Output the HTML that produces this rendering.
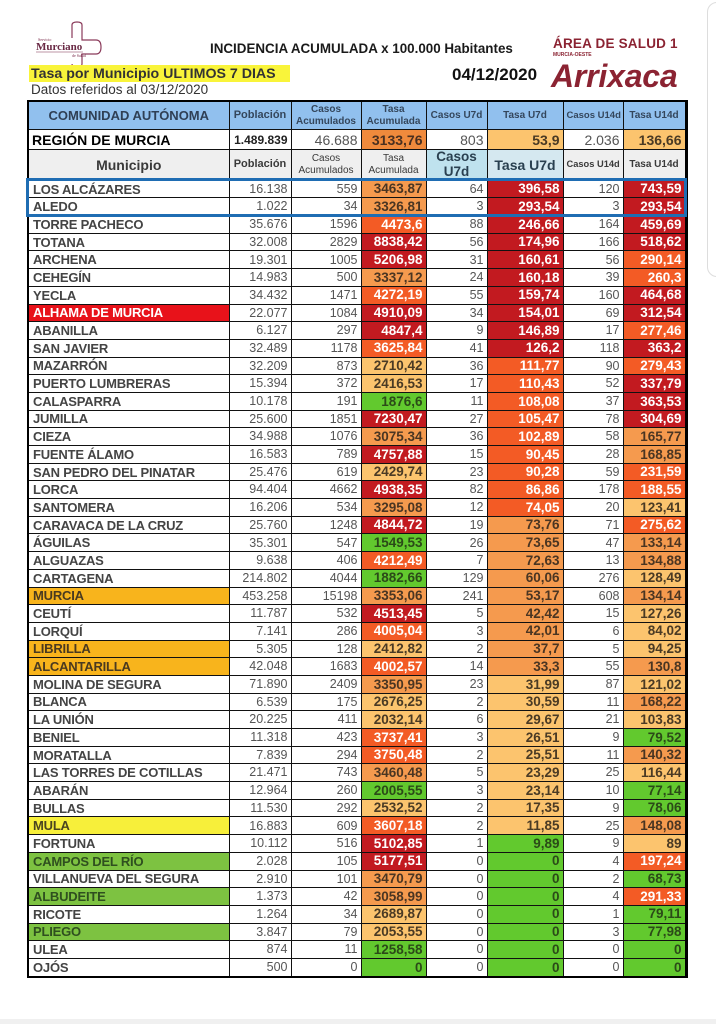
<!DOCTYPE html>
<html><head><meta charset="utf-8">
<style>
html,body{margin:0;padding:0;background:#fff;}
body{width:716px;height:1024px;position:relative;overflow:hidden;font-family:"Liberation Sans",Arial,sans-serif;}
.abs{position:absolute;white-space:nowrap;}
table{position:absolute;left:27px;top:100px;border-collapse:collapse;table-layout:fixed;width:658px;border:2.5px solid #000;border-right-width:3px;}
td{border:1px solid #111;padding:0 3px 0 3px;white-space:nowrap;overflow:hidden;line-height:1;vertical-align:middle;font-size:12.5px;color:#555;text-align:right;}
tr.b td{height:16.7px;}
td.n{text-align:left;font-weight:bold;color:#444;font-size:13px;letter-spacing:-0.2px;padding-left:4px;}
td.r,td.o,td.m,td.l,td.g{font-weight:bold;font-size:13.5px;}
td.r{background:#c21a20;color:#fff;}
td.o{background:#f35b25;color:#fff;}
td.m{background:#f59a4e;color:#4a3522;}
td.l{background:#fcc46e;color:#4a3a24;}
td.g{background:#62c92e;color:#2b4a18;}
td.nr{background:#e8121a;color:#fff;}
td.no{background:#f8b41c;color:#4a3a20;}
td.ny{background:#f7ef3a;color:#4a4520;}
td.ng{background:#7dc241;color:#2f4f1f;}
tr.h1 td{background:#91c0ee;height:27px;text-align:center;font-weight:bold;color:#34465c;font-size:10px;}
tr.h2 td{height:19px;}
tr.h3 td{background:#efefef;height:29px;text-align:center;font-weight:bold;color:#3a3a3a;font-size:10px;}
.sm{font-size:9.5px;line-height:1.15;font-weight:bold;}
</style></head><body>

<!-- logo -->
<svg class="abs" style="left:30px;top:20px" width="80" height="48" viewBox="0 0 80 48">
<path d="M42 5 Q42 2 47 2 Q52 2 52 5 L52 20 L66 20 Q71 20 71 27 Q71 34 66 34 L52 34 L52 44 Q52 47 47 47 Q42 47 42 44 M42 5 L42 18" fill="none" stroke="#8a3a5a" stroke-width="1.2"/>
<text x="8" y="21" font-family="Liberation Serif,serif" font-size="4" fill="#7a2a4a">Servicio</text>
<text x="6" y="30" font-family="Liberation Serif,serif" font-size="11" fill="#6a2a45" font-weight="bold">Murciano</text>
<line x1="6" y1="32" x2="53" y2="32" stroke="#7a2a4a" stroke-width="0.6"/>
<text x="42" y="37" font-family="Liberation Serif,serif" font-size="4" fill="#7a2a4a">de Salud</text>
</svg>

<div class="abs" style="left:210px;top:41px;font-size:13.4px;font-weight:bold;color:#1a1a1a;">INCIDENCIA ACUMULADA x 100.000 Habitantes</div>
<div class="abs" style="left:553px;top:36px;font-size:13.5px;font-weight:bold;color:#8b2332;letter-spacing:0.2px;">ÁREA DE SALUD 1</div>
<div class="abs" style="left:553px;top:52px;font-size:5px;font-weight:bold;color:#8b2332;">MURCIA-OESTE</div>
<div class="abs" style="left:551px;top:60px;font-size:32px;font-weight:bold;font-style:italic;color:#8b2332;letter-spacing:-0.2px;line-height:1;">Arrixaca</div>
<div class="abs" style="left:452px;top:65px;font-size:17px;font-weight:bold;color:#111;">04/12/2020</div>
<div class="abs" style="left:29px;top:65px;width:261px;height:17px;background:#f9f43a;"></div>
<div class="abs" style="left:31px;top:66px;font-size:14.2px;font-weight:bold;color:#333;">Tasa por Municipio ULTIMOS 7 DIAS</div>
<div class="abs" style="left:31px;top:82px;font-size:13.5px;color:#333;">Datos referidos al 03/12/2020</div>

<!-- right scroll box -->
<div class="abs" style="left:707px;top:2px;width:30px;height:273px;border:1px solid #ddd;border-radius:10px;"></div>
<!-- bottom band -->
<div class="abs" style="left:0;top:1019px;width:716px;height:5px;background:#f0f0f0;"></div>

<table>
<colgroup><col style="width:201px"><col style="width:62px"><col style="width:70px"><col style="width:65px"><col style="width:61px"><col style="width:76px"><col style="width:60px"><col style="width:63px"></colgroup>
<tr class="h1"><td style="font-size:13px;color:#2f3f55">COMUNIDAD AUTÓNOMA</td><td style="font-size:11px">Población</td><td class="sm">Casos<br>Acumulados</td><td class="sm">Tasa<br>Acumulada</td><td>Casos U7d</td><td>Tasa U7d</td><td style="font-size:9.5px">Casos U14d</td><td>Tasa U14d</td></tr>
<tr class="h2"><td style="text-align:left;font-weight:bold;color:#000;font-size:14px;padding-left:3px">REGIÓN DE MURCIA</td><td style="color:#222;font-size:12px;font-weight:bold">1.489.839</td><td style="font-size:14px">46.688</td><td style="background:#f08a3c;color:#4a3020;font-weight:bold;font-size:14px">3133,76</td><td style="font-size:14px">803</td><td class="l" style="font-size:14px">53,9</td><td style="font-size:14px">2.036</td><td class="l" style="font-size:14px">136,66</td></tr>
<tr class="h3"><td style="font-size:14px">Municipio</td><td style="font-size:11px">Población</td><td class="sm" style="font-weight:normal">Casos<br>Acumulados</td><td class="sm" style="font-weight:normal">Tasa<br>Acumulada</td><td style="background:#bfe2ee;font-size:13.5px;line-height:1.1;color:#2a4050">Casos<br>U7d</td><td style="background:#d5e8f0;font-size:14px;color:#2a4050">Tasa U7d</td><td style="font-size:9.3px">Casos U14d</td><td>Tasa U14d</td></tr>
<tr class="b"><td class="n">LOS ALCÁZARES</td><td>16.138</td><td>559</td><td class="m">3463,87</td><td>64</td><td class="r">396,58</td><td>120</td><td class="r">743,59</td></tr>
<tr class="b"><td class="n">ALEDO</td><td>1.022</td><td>34</td><td class="m">3326,81</td><td>3</td><td class="r">293,54</td><td>3</td><td class="r">293,54</td></tr>
<tr class="b"><td class="n">TORRE PACHECO</td><td>35.676</td><td>1596</td><td class="o">4473,6</td><td>88</td><td class="r">246,66</td><td>164</td><td class="r">459,69</td></tr>
<tr class="b"><td class="n">TOTANA</td><td>32.008</td><td>2829</td><td class="r">8838,42</td><td>56</td><td class="r">174,96</td><td>166</td><td class="r">518,62</td></tr>
<tr class="b"><td class="n">ARCHENA</td><td>19.301</td><td>1005</td><td class="r">5206,98</td><td>31</td><td class="r">160,61</td><td>56</td><td class="o">290,14</td></tr>
<tr class="b"><td class="n">CEHEGÍN</td><td>14.983</td><td>500</td><td class="m">3337,12</td><td>24</td><td class="r">160,18</td><td>39</td><td class="o">260,3</td></tr>
<tr class="b"><td class="n">YECLA</td><td>34.432</td><td>1471</td><td class="o">4272,19</td><td>55</td><td class="r">159,74</td><td>160</td><td class="r">464,68</td></tr>
<tr class="b"><td class="n nr">ALHAMA DE MURCIA</td><td>22.077</td><td>1084</td><td class="r">4910,09</td><td>34</td><td class="r">154,01</td><td>69</td><td class="r">312,54</td></tr>
<tr class="b"><td class="n">ABANILLA</td><td>6.127</td><td>297</td><td class="r">4847,4</td><td>9</td><td class="r">146,89</td><td>17</td><td class="o">277,46</td></tr>
<tr class="b"><td class="n">SAN JAVIER</td><td>32.489</td><td>1178</td><td class="o">3625,84</td><td>41</td><td class="r">126,2</td><td>118</td><td class="r">363,2</td></tr>
<tr class="b"><td class="n">MAZARRÓN</td><td>32.209</td><td>873</td><td class="l">2710,42</td><td>36</td><td class="o">111,77</td><td>90</td><td class="o">279,43</td></tr>
<tr class="b"><td class="n">PUERTO LUMBRERAS</td><td>15.394</td><td>372</td><td class="l">2416,53</td><td>17</td><td class="o">110,43</td><td>52</td><td class="r">337,79</td></tr>
<tr class="b"><td class="n">CALASPARRA</td><td>10.178</td><td>191</td><td class="g">1876,6</td><td>11</td><td class="o">108,08</td><td>37</td><td class="r">363,53</td></tr>
<tr class="b"><td class="n">JUMILLA</td><td>25.600</td><td>1851</td><td class="r">7230,47</td><td>27</td><td class="o">105,47</td><td>78</td><td class="r">304,69</td></tr>
<tr class="b"><td class="n">CIEZA</td><td>34.988</td><td>1076</td><td class="m">3075,34</td><td>36</td><td class="o">102,89</td><td>58</td><td class="m">165,77</td></tr>
<tr class="b"><td class="n">FUENTE ÁLAMO</td><td>16.583</td><td>789</td><td class="r">4757,88</td><td>15</td><td class="o">90,45</td><td>28</td><td class="m">168,85</td></tr>
<tr class="b"><td class="n">SAN PEDRO DEL PINATAR</td><td>25.476</td><td>619</td><td class="l">2429,74</td><td>23</td><td class="o">90,28</td><td>59</td><td class="o">231,59</td></tr>
<tr class="b"><td class="n">LORCA</td><td>94.404</td><td>4662</td><td class="r">4938,35</td><td>82</td><td class="o">86,86</td><td>178</td><td class="o">188,55</td></tr>
<tr class="b"><td class="n">SANTOMERA</td><td>16.206</td><td>534</td><td class="m">3295,08</td><td>12</td><td class="o">74,05</td><td>20</td><td class="l">123,41</td></tr>
<tr class="b"><td class="n">CARAVACA DE LA CRUZ</td><td>25.760</td><td>1248</td><td class="r">4844,72</td><td>19</td><td class="m">73,76</td><td>71</td><td class="o">275,62</td></tr>
<tr class="b"><td class="n">ÁGUILAS</td><td>35.301</td><td>547</td><td class="g">1549,53</td><td>26</td><td class="m">73,65</td><td>47</td><td class="m">133,14</td></tr>
<tr class="b"><td class="n">ALGUAZAS</td><td>9.638</td><td>406</td><td class="o">4212,49</td><td>7</td><td class="m">72,63</td><td>13</td><td class="m">134,88</td></tr>
<tr class="b"><td class="n">CARTAGENA</td><td>214.802</td><td>4044</td><td class="g">1882,66</td><td>129</td><td class="m">60,06</td><td>276</td><td class="l">128,49</td></tr>
<tr class="b"><td class="n no">MURCIA</td><td>453.258</td><td>15198</td><td class="m">3353,06</td><td>241</td><td class="m">53,17</td><td>608</td><td class="m">134,14</td></tr>
<tr class="b"><td class="n">CEUTÍ</td><td>11.787</td><td>532</td><td class="r">4513,45</td><td>5</td><td class="m">42,42</td><td>15</td><td class="l">127,26</td></tr>
<tr class="b"><td class="n">LORQUÍ</td><td>7.141</td><td>286</td><td class="o">4005,04</td><td>3</td><td class="m">42,01</td><td>6</td><td class="l">84,02</td></tr>
<tr class="b"><td class="n no">LIBRILLA</td><td>5.305</td><td>128</td><td class="l">2412,82</td><td>2</td><td class="m">37,7</td><td>5</td><td class="l">94,25</td></tr>
<tr class="b"><td class="n no">ALCANTARILLA</td><td>42.048</td><td>1683</td><td class="o">4002,57</td><td>14</td><td class="m">33,3</td><td>55</td><td class="m">130,8</td></tr>
<tr class="b"><td class="n">MOLINA DE SEGURA</td><td>71.890</td><td>2409</td><td class="m">3350,95</td><td>23</td><td class="l">31,99</td><td>87</td><td class="l">121,02</td></tr>
<tr class="b"><td class="n">BLANCA</td><td>6.539</td><td>175</td><td class="l">2676,25</td><td>2</td><td class="l">30,59</td><td>11</td><td class="m">168,22</td></tr>
<tr class="b"><td class="n">LA UNIÓN</td><td>20.225</td><td>411</td><td class="l">2032,14</td><td>6</td><td class="l">29,67</td><td>21</td><td class="l">103,83</td></tr>
<tr class="b"><td class="n">BENIEL</td><td>11.318</td><td>423</td><td class="o">3737,41</td><td>3</td><td class="l">26,51</td><td>9</td><td class="g">79,52</td></tr>
<tr class="b"><td class="n">MORATALLA</td><td>7.839</td><td>294</td><td class="o">3750,48</td><td>2</td><td class="l">25,51</td><td>11</td><td class="m">140,32</td></tr>
<tr class="b"><td class="n">LAS TORRES DE COTILLAS</td><td>21.471</td><td>743</td><td class="m">3460,48</td><td>5</td><td class="l">23,29</td><td>25</td><td class="l">116,44</td></tr>
<tr class="b"><td class="n">ABARÁN</td><td>12.964</td><td>260</td><td class="g">2005,55</td><td>3</td><td class="l">23,14</td><td>10</td><td class="g">77,14</td></tr>
<tr class="b"><td class="n">BULLAS</td><td>11.530</td><td>292</td><td class="l">2532,52</td><td>2</td><td class="l">17,35</td><td>9</td><td class="g">78,06</td></tr>
<tr class="b"><td class="n ny">MULA</td><td>16.883</td><td>609</td><td class="o">3607,18</td><td>2</td><td class="l">11,85</td><td>25</td><td class="m">148,08</td></tr>
<tr class="b"><td class="n">FORTUNA</td><td>10.112</td><td>516</td><td class="r">5102,85</td><td>1</td><td class="g">9,89</td><td>9</td><td class="l">89</td></tr>
<tr class="b"><td class="n ng">CAMPOS DEL RÍO</td><td>2.028</td><td>105</td><td class="r">5177,51</td><td>0</td><td class="g">0</td><td>4</td><td class="o">197,24</td></tr>
<tr class="b"><td class="n">VILLANUEVA DEL SEGURA</td><td>2.910</td><td>101</td><td class="m">3470,79</td><td>0</td><td class="g">0</td><td>2</td><td class="g">68,73</td></tr>
<tr class="b"><td class="n ng">ALBUDEITE</td><td>1.373</td><td>42</td><td class="m">3058,99</td><td>0</td><td class="g">0</td><td>4</td><td class="o">291,33</td></tr>
<tr class="b"><td class="n">RICOTE</td><td>1.264</td><td>34</td><td class="l">2689,87</td><td>0</td><td class="g">0</td><td>1</td><td class="g">79,11</td></tr>
<tr class="b"><td class="n ng">PLIEGO</td><td>3.847</td><td>79</td><td class="l">2053,55</td><td>0</td><td class="g">0</td><td>3</td><td class="g">77,98</td></tr>
<tr class="b"><td class="n">ULEA</td><td>874</td><td>11</td><td class="g">1258,58</td><td>0</td><td class="g">0</td><td>0</td><td class="g">0</td></tr>
<tr class="b"><td class="n">OJÓS</td><td>500</td><td>0</td><td class="g">0</td><td>0</td><td class="g">0</td><td>0</td><td class="g">0</td></tr>
</table>

<!-- blue highlight box -->
<div class="abs" style="left:26px;top:178px;width:655px;height:33px;border:3px solid #1f6db3;"></div>
</body></html>
